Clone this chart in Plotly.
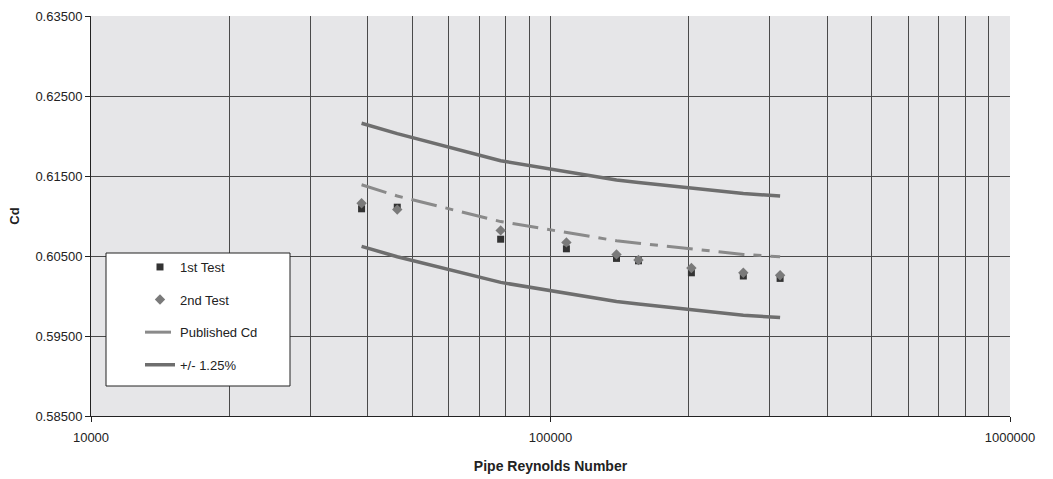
import plotly.graph_objects as go

# Data
reynolds = [38800, 46400, 77900, 108300, 139200, 155400, 202600, 262800, 316000]
test1 = [0.6109, 0.6111, 0.6071, 0.6059, 0.6047, 0.6044, 0.6029, 0.6025, 0.6022]
test2 = [0.6116, 0.6108, 0.6082, 0.6067, 0.6052, 0.6045, 0.6035, 0.6029, 0.6026]
published = [0.6139, 0.6125, 0.6093, 0.6079, 0.6069, 0.6066, 0.6059, 0.6052, 0.6049]
upper = [0.6216, 0.6203, 0.6169, 0.6155, 0.6145, 0.6142, 0.6135, 0.6128, 0.6125]
lower = [0.6062, 0.6049, 0.6017, 0.6003, 0.5993, 0.5990, 0.5983, 0.5976, 0.5973]

x_major = [10000, 100000, 1000000]
x_major_text = ["10000", "100000", "1000000"]
x_minor = [m * d for d in (10000, 100000) for m in range(2, 10)]
y_ticks = [0.585, 0.595, 0.605, 0.615, 0.625, 0.635]

FONT = "Liberation Sans, Arial, sans-serif"
GRID = "#4a4a4a"

fig = go.Figure()
fig.add_trace(go.Scatter(x=reynolds, y=test1, mode="markers", name="1st Test",
                         legendgroup="a",
                         marker=dict(symbol="square", size=7, color="#333333")))
fig.add_trace(go.Scatter(x=reynolds, y=test2, mode="markers", name="2nd Test",
                         legendgroup="b",
                         marker=dict(symbol="diamond", size=8, color="#7a7a7a")))
fig.add_trace(go.Scatter(x=reynolds, y=published, mode="lines", name="Published Cd",
                         legendgroup="c",
                         line=dict(color="#8a8a8a", width=3, dash="26px,9px,8px,9px")))
fig.add_trace(go.Scatter(x=reynolds, y=upper, mode="lines", name="+/- 1.25%",
                         legendgroup="d",
                         line=dict(color="#6e6e6e", width=3.5)))
fig.add_trace(go.Scatter(x=reynolds, y=lower, mode="lines", name="+/- 1.25%",
                         legendgroup="d", showlegend=False,
                         line=dict(color="#6e6e6e", width=3.5)))

# white legend box
fig.add_shape(type="rect", xref="paper", yref="paper",
              x0=(106 - 91) / 919, x1=(290 - 91) / 919,
              y0=(416 - 386) / 400, y1=(416 - 253) / 400,
              fillcolor="white", line=dict(color="#222222", width=1), layer="above")

fig.update_layout(
    width=1053, height=479,
    margin=dict(l=91, r=43, t=16, b=63),
    paper_bgcolor="white",
    plot_bgcolor="#e6e6e8",
    font=dict(family=FONT, size=13, color="#222222"),
    showlegend=True,
    legend=dict(x=(140 - 91) / 919, y=(416 - 252) / 400, xanchor="left", yanchor="top",
                bgcolor="rgba(0,0,0,0)", borderwidth=0,
                traceorder="grouped", tracegroupgap=12.7,
                font=dict(family=FONT, size=13, color="#222222")),
    xaxis=dict(type="log", range=[4, 6], automargin=False,
               tickvals=x_major, ticktext=x_major_text,
               showgrid=True, gridcolor=GRID, gridwidth=1,
               ticks="outside", ticklen=5, tickcolor="#222222",
               ticklabelstandoff=4,
               showline=True, linecolor="#222222", linewidth=1,
               zeroline=False,
               minor=dict(tickvals=x_minor, showgrid=True, gridcolor=GRID, gridwidth=1, ticks=""),
               title=dict(text="<b>Pipe Reynolds Number</b>", standoff=17,
                          font=dict(family=FONT, size=14, color="#222222"))),
    yaxis=dict(range=[0.585, 0.635], tickvals=y_ticks, tickformat=".5f", automargin=False,
               showgrid=True, gridcolor=GRID, gridwidth=1,
               ticks="outside", ticklen=5, tickcolor="#222222",
               showline=True, linecolor="#222222", linewidth=1,
               zeroline=False,
               title=dict(text="<b>Cd</b>", standoff=12,
                          font=dict(family=FONT, size=13, color="#222222"))),
)

fig.write_html("out.html", config={"displayModeBar": False},
               post_script="document.body.style.margin='0';document.body.style.overflow='hidden';")
